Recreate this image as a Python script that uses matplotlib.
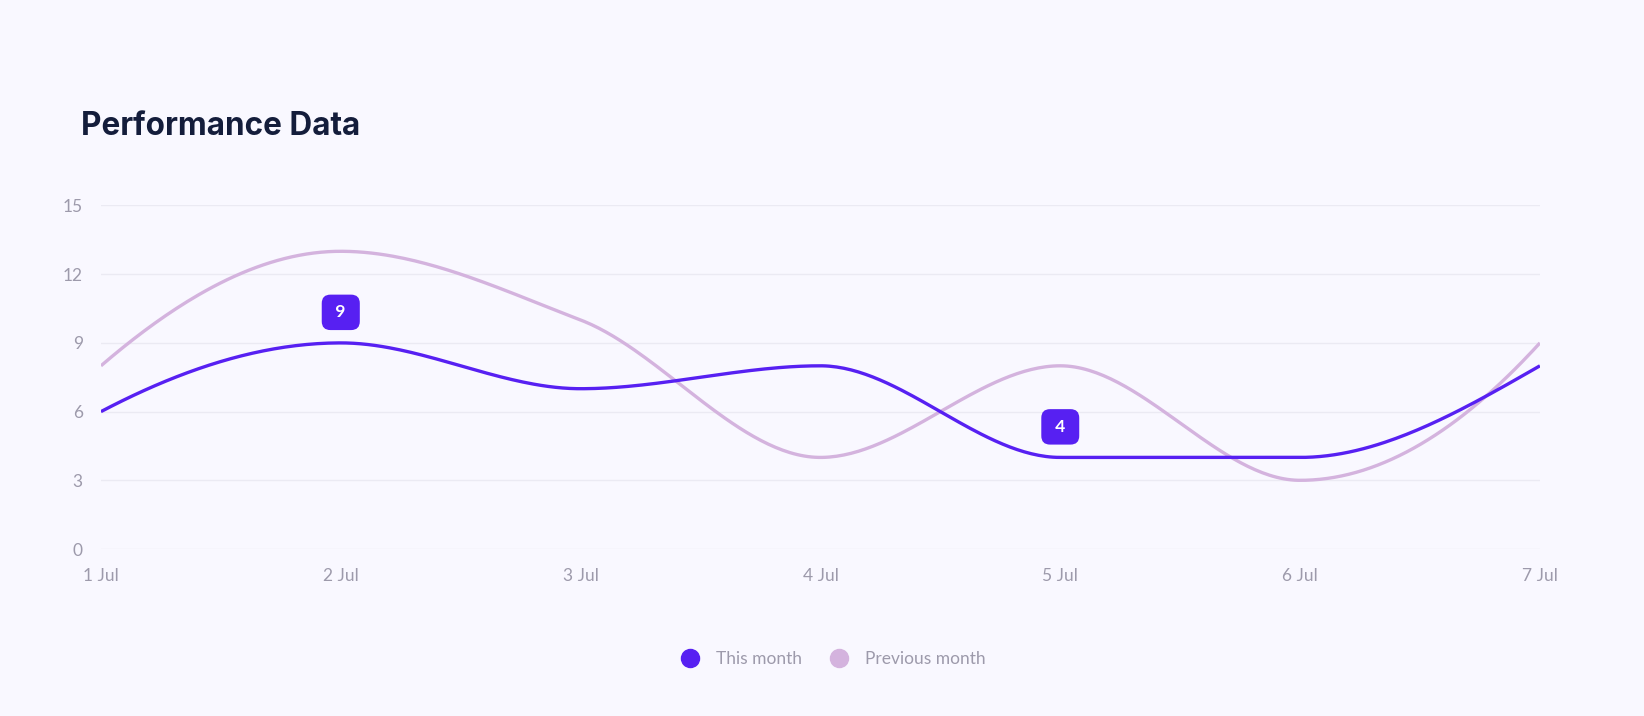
import numpy as np
import matplotlib
matplotlib.use("Agg")
import matplotlib.pyplot as plt
from matplotlib.lines import Line2D

days = ["1 Jul", "2 Jul", "3 Jul", "4 Jul", "5 Jul", "6 Jul", "7 Jul"]
this_month = [6, 9, 7, 8, 4, 4, 8]
previous_month = [8, 13, 10, 4, 8, 3, 9]
labelled_points = [1, 4]  # indexes of this_month that get a value badge
y_ticks = [0, 3, 6, 9, 12, 15]

bg = "#f9f8ff"
c_this = "#5720f2"
c_prev = "#d4b3de"
c_text = "#9d9aab"

plt.rcParams["font.family"] = ["Lato", "DejaVu Sans"]


def end_slope(h0, h1, d0, d1):
    m = ((2 * h0 + h1) * d0 - h0 * d1) / (h0 + h1)
    if np.sign(m) != np.sign(d0):
        m = 0
    elif np.sign(d0) != np.sign(d1) and abs(m) > abs(3 * d0):
        m = 3 * d0
    return m


# monotone cubic, same idea as the "smooth" curve in the chart
def monotone_curve(x, y, n=400):
    x = np.asarray(x, float)
    y = np.asarray(y, float)
    h = np.diff(x)
    d = np.diff(y) / h
    m = np.zeros(len(y))
    m[0] = end_slope(h[0], h[1], d[0], d[1])
    m[-1] = end_slope(h[-1], h[-2], d[-1], d[-2])
    for i in range(1, len(y) - 1):
        if d[i - 1] * d[i] <= 0:
            m[i] = 0
        else:
            m[i] = 2 * d[i - 1] * d[i] / (d[i - 1] + d[i])
    xs = np.linspace(x[0], x[-1], n)
    ys = np.empty_like(xs)
    for k, xv in enumerate(xs):
        i = min(np.searchsorted(x, xv, side="right") - 1, len(x) - 2)
        t = (xv - x[i]) / h[i]
        h00 = 2 * t**3 - 3 * t**2 + 1
        h10 = t**3 - 2 * t**2 + t
        h01 = -2 * t**3 + 3 * t**2
        h11 = t**3 - t**2
        ys[k] = h00 * y[i] + h10 * h[i] * m[i] + h01 * y[i + 1] + h11 * h[i] * m[i + 1]
    return xs, ys


fig = plt.figure(figsize=(16.44, 7.16), dpi=100, facecolor=bg)
ax = fig.add_axes([0.0614, 0.2332, 0.8753, 0.4798])
ax.set_facecolor(bg)

x = np.arange(len(days))
xs, ys = monotone_curve(x, previous_month)
ax.plot(xs, ys, color=c_prev, lw=2.4, solid_capstyle="butt", zorder=3)
xs, ys = monotone_curve(x, this_month)
ax.plot(xs, ys, color=c_this, lw=2.4, solid_capstyle="butt", zorder=4)

for i in labelled_points:
    ax.annotate(" " + str(this_month[i]) + " ", (x[i], this_month[i]), xytext=(0, 22),
                textcoords="offset points", ha="center", va="center",
                color="white", fontsize=12.5, fontweight="bold",
                bbox=dict(boxstyle="round,pad=0.56,rounding_size=0.5",
                          fc=c_this, ec="none"), zorder=5)

ax.set_xlim(0, len(days) - 1)
ax.set_ylim(0, 15)
ax.set_yticks(y_ticks)
ax.set_xticks(x)
ax.set_xticklabels(days)
ax.tick_params(length=0, colors=c_text, labelsize=12.5)
ax.tick_params(axis="y", pad=13)
ax.tick_params(axis="x", pad=14)
for lbl in ax.get_yticklabels() + ax.get_xticklabels():
    lbl.set_color(c_text)
ax.grid(axis="y", color="#ebeaf3", lw=1)
ax.set_axisbelow(True)
for s in ax.spines.values():
    s.set_visible(False)

fig.text(0.0493, 0.824, "Performance Data", fontsize=22.7, fontweight="bold",
         color="#141d3b", va="center", ha="left", family=["Inter", "DejaVu Sans"])

handles = [
    Line2D([], [], ls="none", marker="o", ms=13, color=c_this, label="This month"),
    Line2D([], [], ls="none", marker="o", ms=13, color=c_prev, label="Previous month"),
]
leg = fig.legend(handles=handles, loc="center", bbox_to_anchor=(0.507, 0.08), ncol=2,
                 frameon=False, fontsize=12.5, handletextpad=1.0, columnspacing=1.6,
                 handlelength=1.0)
for t in leg.get_texts():
    t.set_color(c_text)

fig.savefig("out.png", dpi=100, facecolor=bg)
